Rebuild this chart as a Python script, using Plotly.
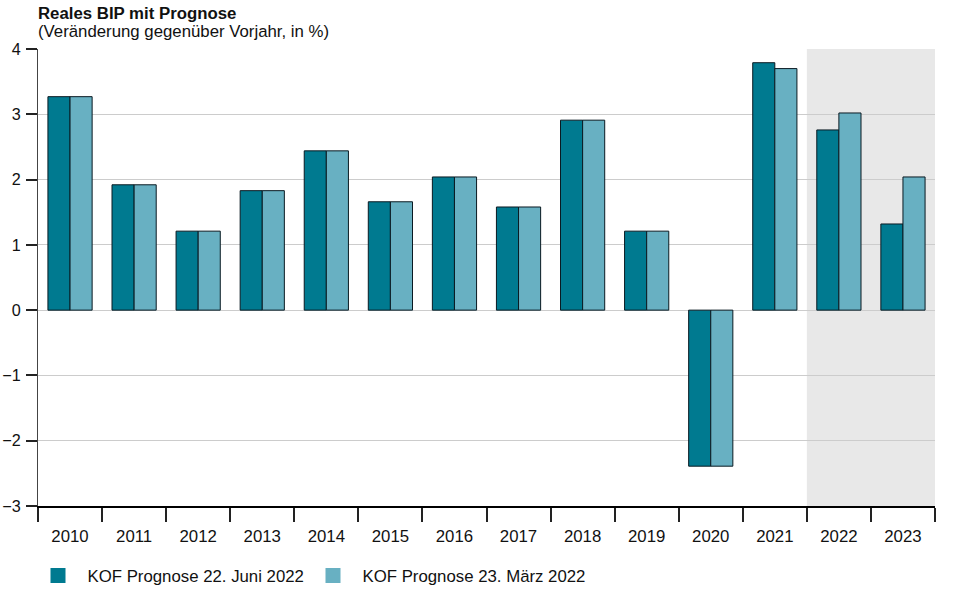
import plotly.graph_objects as go

years = ["2010", "2011", "2012", "2013", "2014", "2015", "2016", "2017",
         "2018", "2019", "2020", "2021", "2022", "2023"]
juni_2022 = [3.27, 1.92, 1.21, 1.83, 2.44, 1.66, 2.04, 1.58, 2.91, 1.21, -2.39, 3.79, 2.76, 1.32]
maerz_2022 = [3.27, 1.92, 1.21, 1.83, 2.44, 1.66, 2.04, 1.58, 2.91, 1.21, -2.39, 3.70, 3.02, 2.04]
y_ticks = [-3, -2, -1, 0, 1, 2, 3, 4]
names = ["KOF Prognose 22. Juni 2022", "KOF Prognose 23. März 2022"]

dark = "#007a90"
light = "#68b0c2"
edge = "#0a1a22"
font = "Liberation Sans, Arial, sans-serif"

fig = go.Figure()
fig.add_trace(go.Bar(x=years, y=juni_2022, name=names[0], showlegend=False,
                     marker=dict(color=dark, line=dict(color=edge, width=1))))
fig.add_trace(go.Bar(x=years, y=maerz_2022, name=names[1], showlegend=False,
                     marker=dict(color=light, line=dict(color=edge, width=1))))
for nm, col, lg in zip(names, [dark, light], ["legend", "legend2"]):
    fig.add_trace(go.Scatter(x=[None], y=[None], mode="markers", name=nm, legend=lg,
                             marker=dict(symbol="square", size=15, color=col,
                                         line=dict(color=col, width=0))))

fig.add_shape(type="rect", xref="x", yref="paper", x0=11.5, x1=13.5, y0=0, y1=1,
              fillcolor="#e8e8e8", line=dict(width=0), layer="below")

fig.add_annotation(text="<b>Reales BIP mit Prognose</b>", xref="paper", yref="paper",
                   x=-0.002, y=1.077, xanchor="left", yanchor="middle", showarrow=False,
                   font=dict(family=font, size=16.8, color="#111"))
fig.add_annotation(text="(Veränderung gegenüber Vorjahr, in %)", xref="paper", yref="paper",
                   x=-0.002, y=1.039, xanchor="left", yanchor="middle", showarrow=False,
                   font=dict(family=font, size=16.8, color="#111"))

leg_common = dict(orientation="h", xref="container", yref="container",
                  y=1 - 575.5 / 595, xanchor="left", yanchor="middle",
                  font=dict(family=font, size=16.8), itemwidth=49,
                  bgcolor="rgba(0,0,0,0)")

fig.update_layout(
    width=960, height=595,
    margin=dict(l=38, r=25, t=49, b=89),
    paper_bgcolor="white", plot_bgcolor="white",
    barmode="group", bargap=0.31, bargroupgap=0,
    font=dict(family=font, size=16.8, color="#111"),
    legend=dict(x=28.5 / 960, **leg_common),
    legend2=dict(x=303.5 / 960, **leg_common),
    showlegend=True,
)
fig.update_xaxes(type="category", showline=True, linecolor="black", linewidth=2,
                 ticks="outside", tickson="boundaries", ticklen=14, tickwidth=2,
                 tickcolor="#222", showgrid=False, range=[-0.5, 13.5],
                 tickfont=dict(size=16.8), automargin=False, ticklabelstandoff=14)
fig.update_yaxes(range=[-3, 4], tickvals=y_ticks, showline=True, linecolor="#444",
                 linewidth=1, ticks="outside", ticklen=11, tickwidth=2, tickcolor="#222",
                 showgrid=True, gridcolor="#cccccc", gridwidth=1, zeroline=False,
                 tickfont=dict(size=16.2), automargin=False, ticklabelstandoff=2)

fig.write_html("out.html", config={"displayModeBar": False},
               post_script="document.body.style.margin='0px';")
